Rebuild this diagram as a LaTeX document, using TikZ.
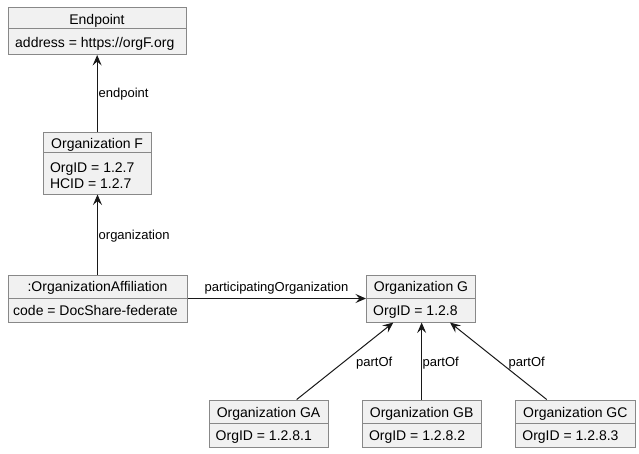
\documentclass[tikz,border=0pt]{standalone}
\usepackage{fontspec}
\setmainfont{Liberation Sans}
\usetikzlibrary{arrows.meta,fit}
\definecolor{boxfill}{HTML}{F1F1F1}
\definecolor{boxline}{HTML}{888888}
\definecolor{arrline}{HTML}{181818}
\tikzset{
  objbox/.style={draw=boxline, fill=boxfill, line width=1pt, inner sep=0pt, rectangle},
  divider/.style={draw=boxline, line width=1pt},
  titletext/.style={inner sep=0pt, font=\fontsize{14}{16}\selectfont, anchor=base},
  attrtext/.style={inner sep=0pt, font=\fontsize{14}{16}\selectfont, anchor=base west},
  lbl/.style={inner sep=0pt, font=\fontsize{13}{15}\selectfont, anchor=base west},
  lblc/.style={inner sep=0pt, font=\fontsize{13}{15}\selectfont, anchor=base},
  arr/.style={draw=arrline, line width=1pt, -{Stealth[length=10.5pt,width=9pt,inset=4pt]}},
}
\begin{document}
\begin{tikzpicture}[x=1pt,y=-1pt]
\useasboundingbox (0,0) rectangle (639,453);

% Endpoint
\node[objbox, fit={(8,7) (186,54.5)}] (E) {};
\draw[divider] (8,28) -- (186,28);
\node[titletext] (Et) at (97,24) {Endpoint};
\node[attrtext] (Ea) at (15,47.5) {address = https://orgF.org};

% Organization F
\node[objbox, fit={(43.3,132) (151,194)}] (F) {};
\draw[divider] (43.3,152.5) -- (151,152.5);
\node[titletext] (Ft) at (97.15,148.7) {Organization F};
\node[attrtext] (Fa) at (49.8,172) {OrgID = 1.2.7};
\node[attrtext] (Fb) at (49.8,188.7) {HCID = 1.2.7};

% OrganizationAffiliation
\node[objbox, fit={(8,275) (187,322)}] (A) {};
\draw[divider] (8,298.5) -- (187,298.5);
\node[titletext] (At) at (97.5,291.5) {:OrganizationAffiliation};
\node[attrtext] (Aa) at (13,315) {code = DocShare-federate};

% Organization G
\node[objbox, fit={(366.5,275) (475.5,322)}] (G) {};
\draw[divider] (366.5,298.5) -- (475.5,298.5);
\node[titletext] (Gt) at (421,291.5) {Organization G};
\node[attrtext] (Ga) at (373,315) {OrgID = 1.2.8};

% Organization GA
\node[objbox, fit={(209,400) (328,447)}] (GA) {};
\draw[divider] (209,423.3) -- (328,423.3);
\node[titletext] (GAt) at (268.5,417.3) {Organization GA};
\node[attrtext] (GAa) at (215.5,440) {OrgID = 1.2.8.1};

% Organization GB
\node[objbox, fit={(362.3,400) (481,447)}] (GB) {};
\draw[divider] (362.3,423.3) -- (481,423.3);
\node[titletext] (GBt) at (421.65,417.3) {Organization GB};
\node[attrtext] (GBa) at (368.8,440) {OrgID = 1.2.8.2};

% Organization GC
\node[objbox, fit={(515.7,400) (635,447)}] (GC) {};
\draw[divider] (515.7,423.3) -- (635,423.3);
\node[titletext] (GCt) at (575.35,417.3) {Organization GC};
\node[attrtext] (GCa) at (522.2,440) {OrgID = 1.2.8.3};

% connectors
\draw[arr] (F.north) -- (F.north |- E.south);
\node[lbl] (l1) at (98.5,97.5) {endpoint};
\draw[arr] (A.north) -- (A.north |- F.south);
\node[lbl] (l2) at (98.5,239) {organization};
\draw[arr] (A.east) -- (G.west);
\node[lblc] (l3) at (276.5,291.5) {participatingOrganization};
\draw[arr] ([xshift=28.2pt]GA.north) -- ([xshift=-27.7pt]G.south);
\node[lbl] (l4) at (356,366.5) {partOf};
\draw[arr] (GB.north) -- (GB.north |- G.south);
\node[lbl] (l5) at (422.5,366.5) {partOf};
\draw[arr] ([xshift=-28.65pt]GC.north) -- ([xshift=29pt]G.south);
\node[lbl] (l6) at (508.5,366.5) {partOf};
\end{tikzpicture}
\end{document}
